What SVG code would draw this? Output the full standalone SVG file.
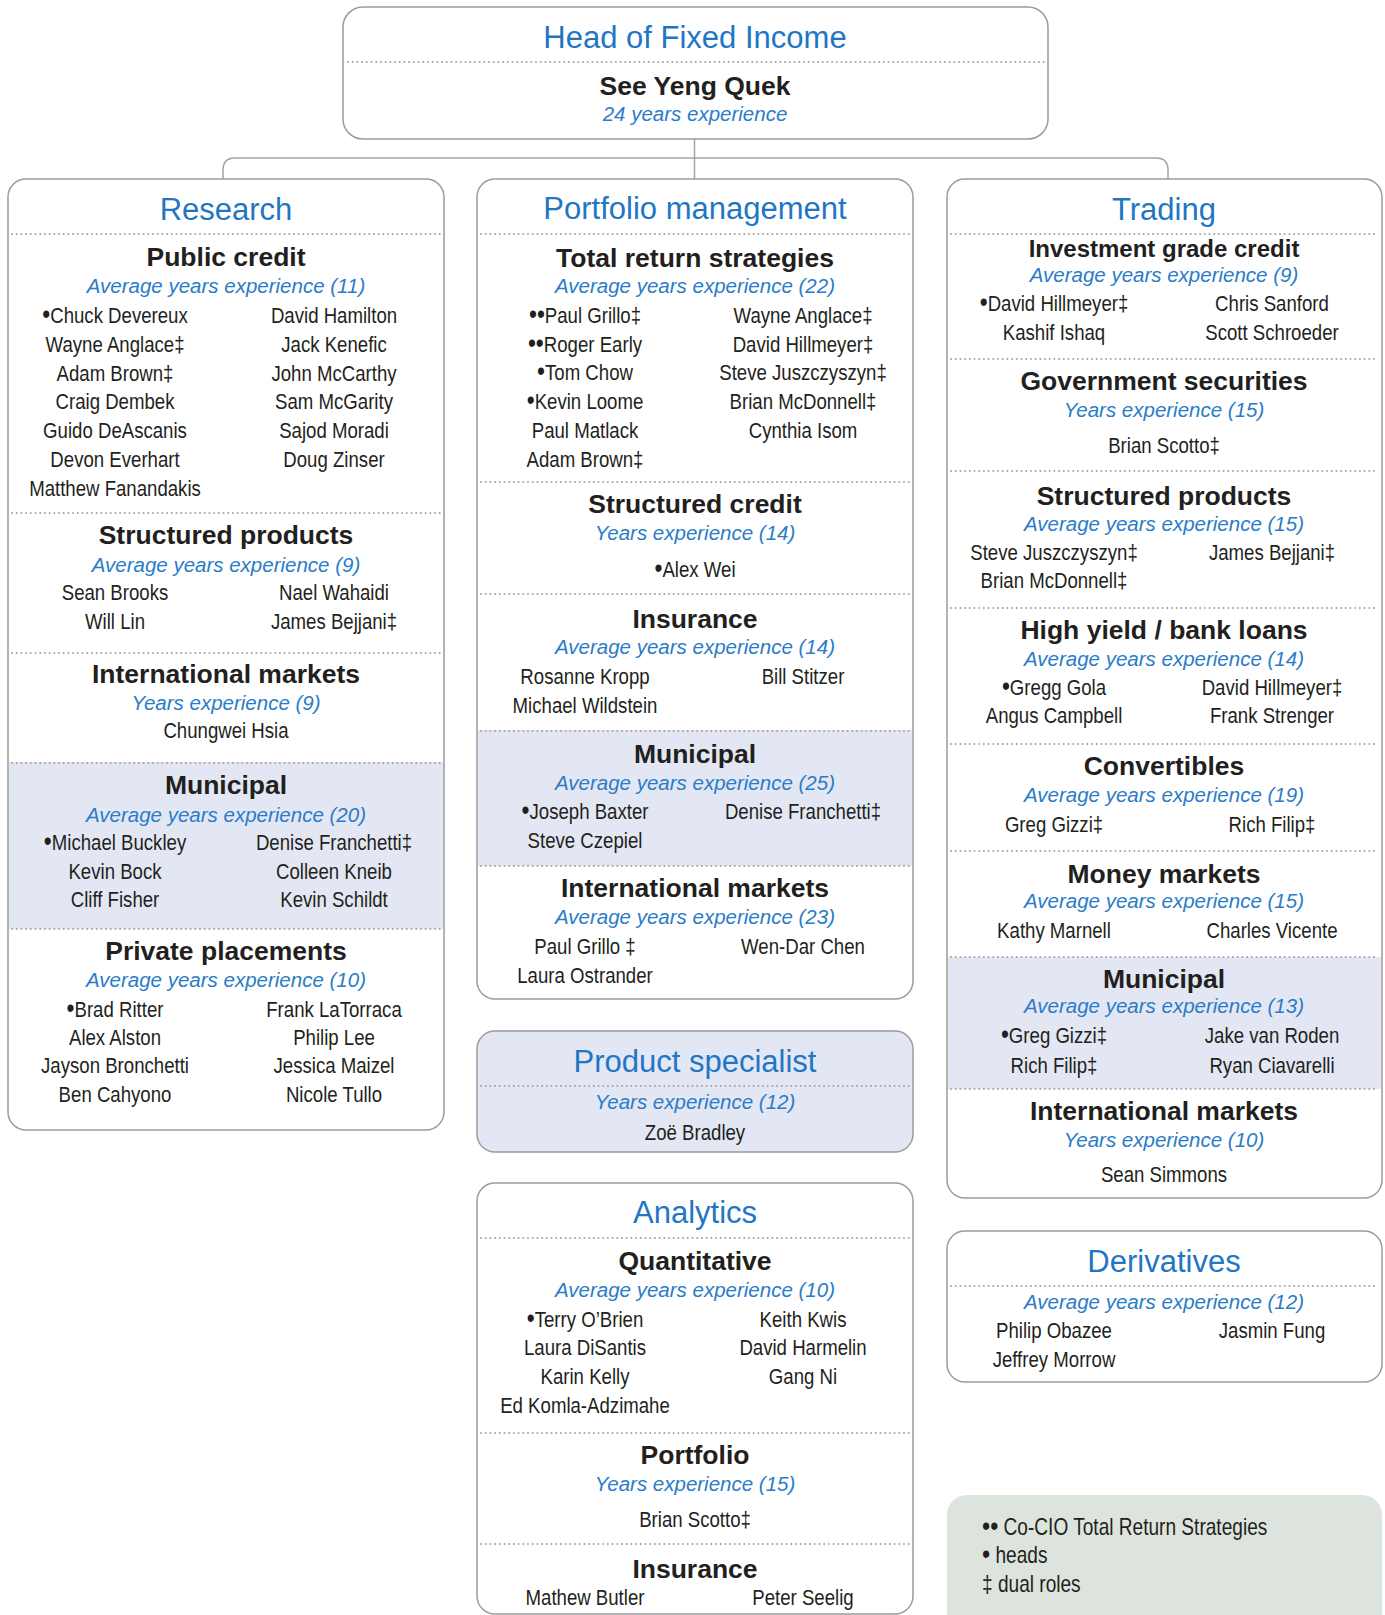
<svg xmlns="http://www.w3.org/2000/svg" width="1385" height="1615" viewBox="0 0 1385 1615">
<style>
.box{fill:#fff;stroke:#9b9b9b;stroke-width:1.5}
.sbox{fill:#e3e7f3;stroke:#9b9b9b;stroke-width:1.5}
.shade{fill:#e3e7f3}
.leg{fill:#dde4de}
.dot{stroke:#a3a3a3;stroke-width:2;stroke-dasharray:0 4.7;stroke-linecap:round;fill:none}
.con{stroke:#a3a3a3;stroke-width:1.5;fill:none}
.t{font-family:"Liberation Sans",Arial,sans-serif;font-size:31px;fill:#1f76c4;text-anchor:middle}
.h{font-family:"Liberation Sans",Arial,sans-serif;font-weight:bold;font-size:26.5px;fill:#231f20;text-anchor:middle}
.h2{font-size:24px}
.e{font-family:"Liberation Sans",Arial,sans-serif;font-style:italic;font-size:20.5px;fill:#2a7cc8;text-anchor:middle}
.n{font-family:"Liberation Sans",Arial,sans-serif;font-size:23px;fill:#231f20;text-anchor:middle}
.l{font-family:"Liberation Sans",Arial,sans-serif;font-size:23px;fill:#231f20}
.b{font-size:28px}
</style>

<g id="connectors">
<path class="con" d="M694.5 139 V179"/>
<path class="con" d="M223 179 V170 Q223 158 235 158 H1156 Q1168 158 1168 170 V179"/>
</g>

<g id="head">
<rect class="box" x="343" y="7" width="705" height="132" rx="20"/>
<text class="t" x="695" y="48">Head of Fixed Income</text>
<line class="dot" x1="348" y1="62" x2="1044" y2="62"/>
<text class="h" x="695" y="95">See Yeng Quek</text>
<text class="e" x="695" y="121">24 years experience</text>
</g>

<g id="research">
<rect class="box" x="8" y="179" width="436" height="951" rx="18"/>
<rect class="shade" x="9" y="762" width="434" height="167"/>
<text class="t" x="226" y="220">Research</text>
<line class="dot" x1="12" y1="234" x2="440" y2="234"/>
<text class="h" x="226" y="266">Public credit</text>
<text class="e" x="226" y="293">Average years experience (11)</text>
<g transform="translate(115 0) scale(0.81 1)">
<text class="n" y="323"><tspan class="b">•</tspan>Chuck Devereux</text>
<text class="n" y="352">Wayne Anglace‡</text>
<text class="n" y="381">Adam Brown‡</text>
<text class="n" y="409">Craig Dembek</text>
<text class="n" y="438">Guido DeAscanis</text>
<text class="n" y="467">Devon Everhart</text>
<text class="n" y="496">Matthew Fanandakis</text>
<text class="n" y="600">Sean Brooks</text>
<text class="n" y="629">Will Lin</text>
<text class="n" y="850"><tspan class="b">•</tspan>Michael Buckley</text>
<text class="n" y="879">Kevin Bock</text>
<text class="n" y="907">Cliff Fisher</text>
<text class="n" y="1017"><tspan class="b">•</tspan>Brad Ritter</text>
<text class="n" y="1045">Alex Alston</text>
<text class="n" y="1073">Jayson Bronchetti</text>
<text class="n" y="1102">Ben Cahyono</text>
</g>
<g transform="translate(334 0) scale(0.81 1)">
<text class="n" y="323">David Hamilton</text>
<text class="n" y="352">Jack Kenefic</text>
<text class="n" y="381">John McCarthy</text>
<text class="n" y="409">Sam McGarity</text>
<text class="n" y="438">Sajod Moradi</text>
<text class="n" y="467">Doug Zinser</text>
<text class="n" y="600">Nael Wahaidi</text>
<text class="n" y="629">James Bejjani‡</text>
<text class="n" y="850">Denise Franchetti‡</text>
<text class="n" y="879">Colleen Kneib</text>
<text class="n" y="907">Kevin Schildt</text>
<text class="n" y="1017">Frank LaTorraca</text>
<text class="n" y="1045">Philip Lee</text>
<text class="n" y="1073">Jessica Maizel</text>
<text class="n" y="1102">Nicole Tullo</text>
</g>
<g transform="translate(226 0) scale(0.81 1)">
<text class="n" y="738">Chungwei Hsia</text>
</g>
<line class="dot" x1="12" y1="513" x2="440" y2="513"/>
<text class="h" x="226" y="544">Structured products</text>
<text class="e" x="226" y="572">Average years experience (9)</text>
<line class="dot" x1="12" y1="653" x2="440" y2="653"/>
<text class="h" x="226" y="683">International markets</text>
<text class="e" x="226" y="710">Years experience (9)</text>
<line class="dot" x1="12" y1="763" x2="440" y2="763"/>
<text class="h" x="226" y="794">Municipal</text>
<text class="e" x="226" y="822">Average years experience (20)</text>
<line class="dot" x1="12" y1="929" x2="440" y2="929"/>
<text class="h" x="226" y="960">Private placements</text>
<text class="e" x="226" y="987">Average years experience (10)</text>
</g>

<g id="portfolio-management">
<rect class="box" x="477" y="179" width="436" height="820" rx="18"/>
<rect class="shade" x="478" y="730" width="434" height="136"/>
<text class="t" x="695" y="219">Portfolio management</text>
<line class="dot" x1="481" y1="234" x2="909" y2="234"/>
<text class="h" x="695" y="267">Total return strategies</text>
<text class="e" x="695" y="293">Average years experience (22)</text>
<g transform="translate(585 0) scale(0.81 1)">
<text class="n" y="323"><tspan class="b">••</tspan>Paul Grillo‡</text>
<text class="n" y="352"><tspan class="b">••</tspan>Roger Early</text>
<text class="n" y="380"><tspan class="b">•</tspan>Tom Chow</text>
<text class="n" y="409"><tspan class="b">•</tspan>Kevin Loome</text>
<text class="n" y="438">Paul Matlack</text>
<text class="n" y="467">Adam Brown‡</text>
<text class="n" y="684">Rosanne Kropp</text>
<text class="n" y="713">Michael Wildstein</text>
<text class="n" y="819"><tspan class="b">•</tspan>Joseph Baxter</text>
<text class="n" y="848">Steve Czepiel</text>
<text class="n" y="954">Paul Grillo ‡</text>
<text class="n" y="983">Laura Ostrander</text>
</g>
<g transform="translate(803 0) scale(0.81 1)">
<text class="n" y="323">Wayne Anglace‡</text>
<text class="n" y="352">David Hillmeyer‡</text>
<text class="n" y="380">Steve Juszczyszyn‡</text>
<text class="n" y="409">Brian McDonnell‡</text>
<text class="n" y="438">Cynthia Isom</text>
<text class="n" y="684">Bill Stitzer</text>
<text class="n" y="819">Denise Franchetti‡</text>
<text class="n" y="954">Wen-Dar Chen</text>
</g>
<g transform="translate(695 0) scale(0.81 1)">
<text class="n" y="577"><tspan class="b">•</tspan>Alex Wei</text>
</g>
<line class="dot" x1="481" y1="482" x2="909" y2="482"/>
<text class="h" x="695" y="513">Structured credit</text>
<text class="e" x="695" y="540">Years experience (14)</text>
<line class="dot" x1="481" y1="594" x2="909" y2="594"/>
<text class="h" x="695" y="628">Insurance</text>
<text class="e" x="695" y="654">Average years experience (14)</text>
<line class="dot" x1="481" y1="731" x2="909" y2="731"/>
<text class="h" x="695" y="763">Municipal</text>
<text class="e" x="695" y="790">Average years experience (25)</text>
<line class="dot" x1="481" y1="866" x2="909" y2="866"/>
<text class="h" x="695" y="897">International markets</text>
<text class="e" x="695" y="924">Average years experience (23)</text>
</g>

<g id="product-specialist">
<rect class="sbox" x="477" y="1031" width="436" height="121" rx="18"/>
<text class="t" x="695" y="1072">Product specialist</text>
<line class="dot" x1="481" y1="1086" x2="909" y2="1086"/>
<text class="e" x="695" y="1109">Years experience (12)</text>
<g transform="translate(695 0) scale(0.81 1)">
<text class="n" y="1140">Zoë Bradley</text>
</g>
</g>

<g id="analytics">
<rect class="box" x="477" y="1183" width="436" height="431" rx="18"/>
<text class="t" x="695" y="1223">Analytics</text>
<line class="dot" x1="481" y1="1238" x2="909" y2="1238"/>
<text class="h" x="695" y="1270">Quantitative</text>
<text class="e" x="695" y="1297">Average years experience (10)</text>
<g transform="translate(585 0) scale(0.81 1)">
<text class="n" y="1327"><tspan class="b">•</tspan>Terry O’Brien</text>
<text class="n" y="1355">Laura DiSantis</text>
<text class="n" y="1384">Karin Kelly</text>
<text class="n" y="1413">Ed Komla-Adzimahe</text>
<text class="n" y="1605">Mathew Butler</text>
</g>
<g transform="translate(803 0) scale(0.81 1)">
<text class="n" y="1327">Keith Kwis</text>
<text class="n" y="1355">David Harmelin</text>
<text class="n" y="1384">Gang Ni</text>
<text class="n" y="1605">Peter Seelig</text>
</g>
<g transform="translate(695 0) scale(0.81 1)">
<text class="n" y="1527">Brian Scotto‡</text>
</g>
<line class="dot" x1="481" y1="1433" x2="909" y2="1433"/>
<text class="h" x="695" y="1464">Portfolio</text>
<text class="e" x="695" y="1491">Years experience (15)</text>
<line class="dot" x1="481" y1="1544" x2="909" y2="1544"/>
<text class="h" x="695" y="1578">Insurance</text>
</g>

<g id="trading">
<rect class="box" x="947" y="179" width="435" height="1019" rx="18"/>
<rect class="shade" x="948" y="957" width="433" height="132"/>
<text class="t" x="1164" y="220">Trading</text>
<line class="dot" x1="951" y1="234" x2="1378" y2="234"/>
<text class="h h2" x="1164" y="257">Investment grade credit</text>
<text class="e" x="1164" y="282">Average years experience (9)</text>
<g transform="translate(1054 0) scale(0.81 1)">
<text class="n" y="311"><tspan class="b">•</tspan>David Hillmeyer‡</text>
<text class="n" y="340">Kashif Ishaq</text>
<text class="n" y="560">Steve Juszczyszyn‡</text>
<text class="n" y="588">Brian McDonnell‡</text>
<text class="n" y="695"><tspan class="b">•</tspan>Gregg Gola</text>
<text class="n" y="723">Angus Campbell</text>
<text class="n" y="832">Greg Gizzi‡</text>
<text class="n" y="938">Kathy Marnell</text>
<text class="n" y="1043"><tspan class="b">•</tspan>Greg Gizzi‡</text>
<text class="n" y="1073">Rich Filip‡</text>
</g>
<g transform="translate(1272 0) scale(0.81 1)">
<text class="n" y="311">Chris Sanford</text>
<text class="n" y="340">Scott Schroeder</text>
<text class="n" y="560">James Bejjani‡</text>
<text class="n" y="695">David Hillmeyer‡</text>
<text class="n" y="723">Frank Strenger</text>
<text class="n" y="832">Rich Filip‡</text>
<text class="n" y="938">Charles Vicente</text>
<text class="n" y="1043">Jake van Roden</text>
<text class="n" y="1073">Ryan Ciavarelli</text>
</g>
<g transform="translate(1164 0) scale(0.81 1)">
<text class="n" y="453">Brian Scotto‡</text>
<text class="n" y="1182">Sean Simmons</text>
</g>
<line class="dot" x1="951" y1="359" x2="1378" y2="359"/>
<text class="h" x="1164" y="390">Government securities</text>
<text class="e" x="1164" y="417">Years experience (15)</text>
<line class="dot" x1="951" y1="471" x2="1378" y2="471"/>
<text class="h" x="1164" y="505">Structured products</text>
<text class="e" x="1164" y="531">Average years experience (15)</text>
<line class="dot" x1="951" y1="608" x2="1378" y2="608"/>
<text class="h" x="1164" y="639">High yield / bank loans</text>
<text class="e" x="1164" y="666">Average years experience (14)</text>
<line class="dot" x1="951" y1="744" x2="1378" y2="744"/>
<text class="h" x="1164" y="775">Convertibles</text>
<text class="e" x="1164" y="802">Average years experience (19)</text>
<line class="dot" x1="951" y1="851" x2="1378" y2="851"/>
<text class="h" x="1164" y="883">Money markets</text>
<text class="e" x="1164" y="908">Average years experience (15)</text>
<line class="dot" x1="951" y1="957" x2="1378" y2="957"/>
<text class="h" x="1164" y="988">Municipal</text>
<text class="e" x="1164" y="1013">Average years experience (13)</text>
<line class="dot" x1="951" y1="1089" x2="1378" y2="1089"/>
<text class="h" x="1164" y="1120">International markets</text>
<text class="e" x="1164" y="1147">Years experience (10)</text>
</g>

<g id="derivatives">
<rect class="box" x="947" y="1231" width="435" height="151" rx="18"/>
<text class="t" x="1164" y="1272">Derivatives</text>
<line class="dot" x1="951" y1="1286" x2="1378" y2="1286"/>
<text class="e" x="1164" y="1309">Average years experience (12)</text>
<g transform="translate(1054 0) scale(0.81 1)">
<text class="n" y="1338">Philip Obazee</text>
<text class="n" y="1367">Jeffrey Morrow</text>
</g>
<g transform="translate(1272 0) scale(0.81 1)">
<text class="n" y="1338">Jasmin Fung</text>
</g>
</g>

<g id="legend">
<rect class="leg" x="947" y="1495" width="435" height="140" rx="20"/>
<g transform="translate(982 0) scale(0.83 1)">
<text class="l" y="1535"><tspan class="b">••</tspan> Co-CIO Total Return Strategies</text>
<text class="l" y="1563"><tspan class="b">•</tspan> heads</text>
<text class="l" y="1592">‡ dual roles</text>
</g>
</g>
</svg>
